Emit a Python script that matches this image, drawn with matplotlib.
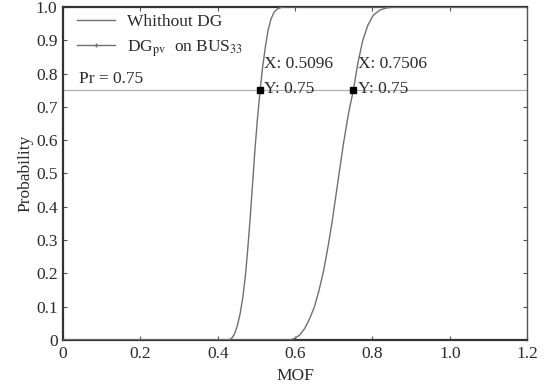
import matplotlib.pyplot as plt
from matplotlib.lines import Line2D

plt.rcParams['font.family'] = ['Liberation Serif', 'DejaVu Serif']
plt.rcParams['mathtext.fontset'] = 'stix'

# CDF points
mof_base = [0.0, 0.427, 0.435, 0.442, 0.450, 0.458, 0.465, 0.472, 0.478, 0.484,
            0.490, 0.496, 0.503, 0.5096, 0.516, 0.523, 0.530, 0.538, 0.546,
            0.555, 0.565, 0.579, 1.2]
prob_base = [0.0, 0.0, 0.004, 0.015, 0.04, 0.08, 0.13, 0.20, 0.28, 0.37,
             0.47, 0.57, 0.67, 0.75, 0.82, 0.88, 0.93, 0.965, 0.985,
             0.995, 0.999, 1.0, 1.0]

mof_dg = [0.0, 0.585, 0.600, 0.612, 0.625, 0.638, 0.650, 0.662, 0.674, 0.685,
          0.695, 0.705, 0.715, 0.725, 0.738, 0.7506, 0.762, 0.775, 0.788,
          0.802, 0.818, 0.835, 0.855, 1.2]
prob_dg = [0.0, 0.0, 0.005, 0.015, 0.035, 0.065, 0.10, 0.15, 0.21, 0.28,
           0.35, 0.43, 0.51, 0.59, 0.68, 0.75, 0.83, 0.90, 0.945,
           0.975, 0.99, 0.997, 1.0, 1.0]

pr_level = 0.75
tips_x = [0.5096, 0.7506]
tips_label = ['0.5096', '0.7506']

xticks = [0, 0.2, 0.4, 0.6, 0.8, 1.0, 1.2]
xtick_labels = ['0', '0.2', '0.4', '0.6', '0.8', '1.0', '1.2']
yticks = [0, 0.1, 0.2, 0.3, 0.4, 0.5, 0.6, 0.7, 0.8, 0.9, 1.0]
ytick_labels = ['0', '0.1', '0.2', '0.3', '0.4', '0.5', '0.6', '0.7', '0.8', '0.9', '1.0']

fs = 12.5
txt_col = '#2a2a2a'

fig = plt.figure(figsize=(5.44, 3.89), dpi=100)
ax = fig.add_axes([0.116, 0.126, 0.853, 0.856])

curve_col = '#707070'
ax.plot(mof_base, prob_base, color=curve_col, lw=1.0, zorder=3)
ax.plot(mof_dg, prob_dg, color=curve_col, lw=1.0, zorder=3)
ax.axhline(pr_level, color='#b0b0b0', lw=0.9, zorder=2)

for x, lab in zip(tips_x, tips_label):
    ax.plot([x], [pr_level], 's', color='black', ms=4.5, zorder=5)
    ax.annotate('X: ' + lab + '\nY: 0.75', xy=(x, pr_level), xytext=(3, -5),
                textcoords='offset points', ha='left', va='bottom',
                fontsize=fs, color=txt_col, linespacing=1.75, zorder=6)

ax.text(0.04, 0.76, 'Pr = 0.75', fontsize=fs, color=txt_col, ha='left', va='bottom')

handles = [Line2D([], [], color=curve_col, lw=1.0),
           Line2D([], [], color=curve_col, lw=1.0, marker='+', ms=3, markevery=[1])]
handles[1].set_data([0, 0.5, 1], [0, 0, 0])
ax.legend(handles, ['Whithout DG', r'DG$_{\mathrm{pv}}$  on BUS$_{33}$'],
          loc='upper left', bbox_to_anchor=(0.0, 1.02), frameon=False,
          fontsize=fs, handlelength=2.2, handletextpad=0.7, borderaxespad=0.4,
          labelspacing=0.45, labelcolor=txt_col)

ax.set_xlim(0, 1.2)
ax.set_ylim(0, 1.0)
ax.set_xticks(xticks)
ax.set_xticklabels(xtick_labels)
ax.set_yticks(yticks)
ax.set_yticklabels(ytick_labels)
ax.tick_params(direction='in', top=True, right=True, labelsize=fs,
               length=3, colors='#555555', labelcolor=txt_col, pad=4)
ax.set_xlabel('MOF', fontsize=fs, color=txt_col, labelpad=5)
ax.set_ylabel('Probability', fontsize=fs, color=txt_col, labelpad=2)

for side in ['left', 'bottom', 'top']:
    ax.spines[side].set_linewidth(1.6)
    ax.spines[side].set_color('#333333')
ax.spines['right'].set_linewidth(1.0)
ax.spines['right'].set_color('#555555')

fig.savefig('out.png', dpi=100)
